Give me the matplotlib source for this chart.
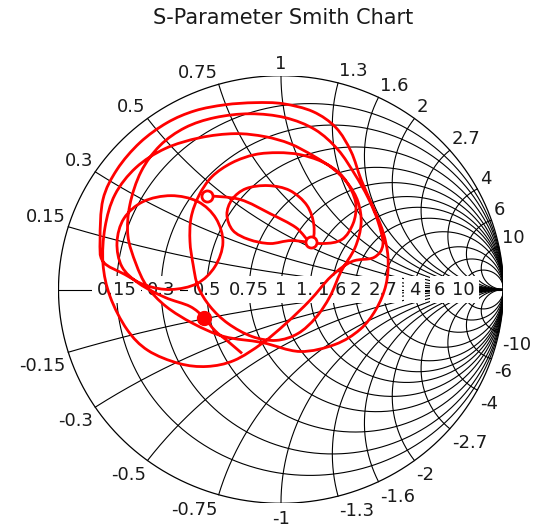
import numpy as np
import matplotlib
matplotlib.use("Agg")
import matplotlib.pyplot as plt
from matplotlib.path import Path
from matplotlib.patches import PathPatch

# grid values of the Smith chart (normalised resistance / reactance)
grid_r = [0.15, 0.3, 0.5, 0.75, 1, 1.3, 1.6, 2, 2.7, 4, 6, 10]
grid_x = [0.15, 0.3, 0.5, 0.75, 1, 1.3, 1.6, 2, 2.7, 4, 6, 10]
grid_labels = ["0.15", "0.3", "0.5", "0.75", "1", "1.3", "1.6", "2", "2.7", "4", "6", "10"]

s11_re = [-0.333, -0.184, -0.049, 0.067, 0.135,
          0.148, 0.117, 0.040, -0.058, -0.157, -0.220, -0.243, -0.216, -0.144, -0.049, 0.049, 0.184,
          0.274, 0.324, 0.337, 0.315, 0.265, 0.184, 0.085, -0.013, -0.117, -0.220, -0.310, -0.369,
          -0.404, -0.409, -0.395, -0.373, -0.319, -0.238, -0.130, -0.022, 0.076, 0.157, 0.220, 0.270,
          0.333, 0.360, 0.346, 0.301, 0.234, 0.144, 0.040, -0.072, -0.207, -0.364, -0.521, -0.652,
          -0.746, -0.791, -0.800, -0.768, -0.692, -0.598, -0.458, -0.333, -0.211, -0.085, 0.022, 0.130,
          0.225, 0.319, 0.418,
          0.458, 0.436, 0.391, 0.333, 0.256, 0.153, 0.018, -0.139, -0.297, -0.431, -0.544, -0.629,
          -0.679, -0.688, -0.652, -0.602, -0.517, -0.395, -0.256, -0.085,
          0.085, 0.243, 0.355, 0.427, 0.472, 0.481, 0.458, 0.409, 0.360, 0.315, 0.247, 0.144, 0.009,
          -0.117, -0.252, -0.387, -0.512, -0.634, -0.737, -0.800, -0.813,
          -0.800, -0.701, -0.607, -0.494, -0.377, -0.297, -0.261, -0.292, -0.373, -0.494, -0.620,
          -0.706, -0.737, -0.715, -0.638, -0.521, -0.409, -0.346, -0.297, -0.238, -0.175]
s11_im = [0.439, 0.421, 0.355, 0.290, 0.220,
          0.299, 0.393, 0.463, 0.486, 0.472, 0.421, 0.350, 0.276, 0.234, 0.215, 0.229, 0.215,
          0.234, 0.308, 0.393, 0.467, 0.542, 0.598, 0.631, 0.640, 0.631, 0.593, 0.528, 0.439,
          0.336, 0.224, 0.117, 0.014, -0.079, -0.159, -0.220, -0.238, -0.206, -0.131, -0.033, 0.084,
          0.196, 0.308, 0.411, 0.495, 0.565, 0.626, 0.682, 0.715, 0.729, 0.710, 0.659, 0.570,
          0.444, 0.290, 0.121, -0.033, -0.187, -0.285, -0.346, -0.360, -0.332, -0.252, -0.159, -0.051,
          0.061, 0.131, 0.150,
          0.210, 0.318, 0.430, 0.537, 0.654, 0.748, 0.804, 0.822, 0.804, 0.757, 0.673, 0.551,
          0.397, 0.252, 0.121, 0.014, -0.079, -0.159, -0.220, -0.248,
          -0.290, -0.257, -0.187, -0.093, 0.023, 0.150, 0.271, 0.397, 0.514, 0.645, 0.757, 0.832, 0.869,
          0.874, 0.864, 0.836, 0.780, 0.687, 0.561, 0.421, 0.234,
          0.131, 0.070, 0.019, 0.000, 0.028, 0.107, 0.220, 0.332, 0.411, 0.439, 0.411,
          0.332, 0.220, 0.107, 0.028, -0.037, -0.079, -0.131, -0.192, -0.243, -0.299]

# marker points
open_re = [-0.333, 0.135]
open_im = [0.439, 0.220]
dot_re = [-0.346]
dot_im = [-0.131]

RED = "#ff0000"
INK = "#1a1a1a"

fig = plt.figure(figsize=(5.37, 5.28), dpi=100, facecolor="white")
ax = fig.add_axes([0.1089, 0.0468, 0.8287, 0.8098])
ax.set_xlim(-1, 1)
ax.set_ylim(-1, 1)
ax.axis("off")

fig.text(0.527, 0.966, "S-Parameter Smith Chart", ha="center", va="center", fontsize=15, color=INK)


def gamma(z):
    return (z - 1) / (z + 1)


# resistance circles
t = np.linspace(-np.pi / 2 + 1e-4, np.pi / 2 - 1e-4, 800)
for r in grid_r:
    g = gamma(r + 1j * np.tan(t))
    ax.plot(g.real, g.imag, color="black", lw=0.8, zorder=1)

# reactance arcs
t2 = np.linspace(0, np.pi / 2 - 1e-4, 600)
for x in grid_x:
    for s in (1, -1):
        g = gamma(np.tan(t2) + 1j * s * x)
        ax.plot(g.real, g.imag, color="black", lw=0.8, zorder=1)

# outer rim and real axis
th = np.linspace(0, 2 * np.pi, 800)
ax.plot(np.cos(th), np.sin(th), color="black", lw=0.9, zorder=1)
ax.plot([-1, 1], [0, 0], color="black", lw=0.8, zorder=1)

# labels on the real axis
for r, lab in zip(grid_r, grid_labels):
    ax.text(gamma(r), 0, lab, ha="center", va="center", fontsize=13, color=INK, zorder=2,
            bbox=dict(boxstyle="square,pad=0.25", facecolor="white", edgecolor="none"))

# labels around the rim
for x, lab in zip(grid_x, grid_labels):
    for s in (1, -1):
        g = gamma(1j * s * x)
        c, sn = g.real, g.imag
        ha = "center" if abs(c) < 0.05 else ("left" if c > 0 else "right")
        va = "bottom" if sn > 0 else "top"
        text = lab if s > 0 else "-" + lab
        dy = 2 * sn if s > 0 else 2 * sn - 2.5
        ax.annotate(text, xy=(c, sn), xytext=(2 * c, dy), textcoords="offset points",
                    ha=ha, va=va, fontsize=13, color=INK, annotation_clip=False)

# trace drawn as a smooth curve through the measured points
pts = np.column_stack([s11_re, s11_im])
verts = [pts[0]]
codes = [Path.MOVETO]
n = len(pts)
for i in range(n - 1):
    p0 = pts[i - 1] if i > 0 else pts[i]
    p1, p2 = pts[i], pts[i + 1]
    p3 = pts[i + 2] if i + 2 < n else pts[i + 1]
    verts += [p1 + (p2 - p0) / 6, p2 - (p3 - p1) / 6, p2]
    codes += [Path.CURVE4] * 3
ax.add_patch(PathPatch(Path(verts, codes), fill=False, edgecolor=RED, lw=2.0, zorder=3))

ax.plot(open_re, open_im, "o", ms=8, mfc="white", mec=RED, mew=2.0, zorder=4)
ax.plot(dot_re, dot_im, "o", ms=10, color=RED, zorder=4)

fig.savefig("out.png", dpi=100, facecolor="white")
